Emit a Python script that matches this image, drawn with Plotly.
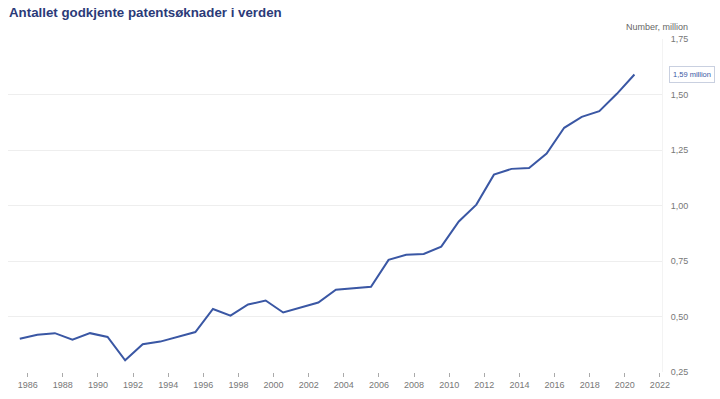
import plotly.graph_objects as go

years = list(range(1985, 2021))
values = [0.400, 0.418, 0.425, 0.396, 0.425, 0.408, 0.303, 0.375, 0.387, 0.407,
          0.430, 0.534, 0.504, 0.554, 0.572, 0.518, 0.539, 0.563, 0.621, 0.627,
          0.634, 0.755, 0.778, 0.782, 0.815, 0.928, 1.004, 1.139, 1.165, 1.169,
          1.234, 1.350, 1.399, 1.425, 1.503, 1.590]
x_ticks = list(range(1986, 2023, 2))
y_ticks = [0.25, 0.50, 0.75, 1.00, 1.25, 1.50, 1.75]
title = "Antallet godkjente patentsøknader i verden"
unit_label = "Number, million"
callout = "1,59 million"

x_pos = [y + 0.55 for y in years]

fig = go.Figure()
fig.add_trace(go.Scatter(x=x_pos, y=values, mode="lines",
                         line=dict(color="#3a57a4", width=2), hoverinfo="skip"))

fig.update_layout(
    width=720, height=399,
    margin=dict(l=8, r=58, t=39, b=27),
    paper_bgcolor="white", plot_bgcolor="white",
    showlegend=False,
    separators=", ",
    font=dict(family="Liberation Sans, Arial, sans-serif", size=9, color="#666666"),
    xaxis=dict(range=[1984.88, 2022.12], tickvals=x_ticks, ticktext=[str(t) for t in x_ticks],
               showgrid=False, zeroline=False, showline=False,
               ticks="outside", ticklen=4, tickcolor="#aaaaaa", tickwidth=1,
               tickfont=dict(size=9, color="#777777")),
    yaxis=dict(range=[0.25, 1.75], side="right", tickvals=y_ticks, tickformat=".2f",
               showgrid=True, gridcolor="#eeeeee", gridwidth=1, zeroline=False,
               showline=True, linecolor="#f3f3f3", ticks="", ticklabelstandoff=6,
               tickfont=dict(size=9, color="#777777")),
)

fig.add_annotation(text="<b>" + title + "</b>", xref="paper", yref="paper",
                   x=-1/654, y=1 + 26/333, xanchor="left", yanchor="middle", showarrow=False,
                   font=dict(size=13.3, color="#2b3a78", family="Liberation Sans, Arial, sans-serif"))
fig.add_annotation(text=unit_label, xref="paper", yref="paper",
                   x=1 + 28/654, y=1 + 12/333, xanchor="right", yanchor="middle", showarrow=False,
                   font=dict(size=9, color="#666666"))
fig.add_annotation(text=callout, xref="paper", yref="y",
                   x=1 + 7/654, y=values[-1], xanchor="left", yanchor="middle", showarrow=False,
                   font=dict(size=7.5, color="#3a57a4"), bgcolor="white",
                   bordercolor="#c9d0e0", borderwidth=1, borderpad=3)

fig.write_html("out.html", post_script="document.body.style.margin='0';",
               config={"displayModeBar": False})
